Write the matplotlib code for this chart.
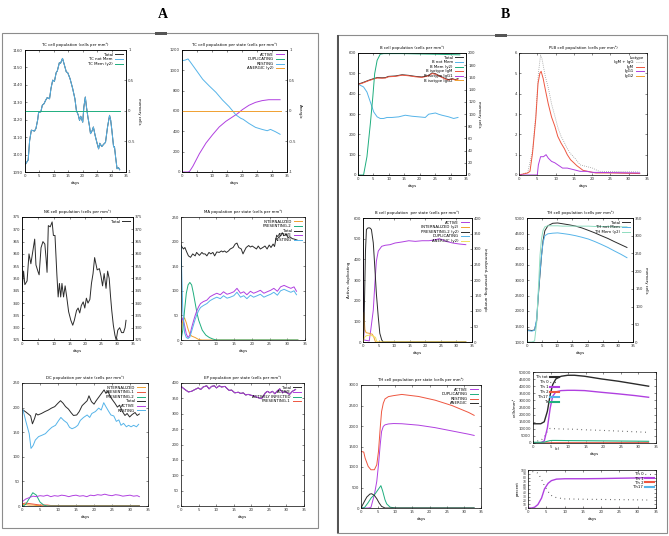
"""C-ImmSim style simulation panels (A: innate/TC, B: B and TH cells)."""
import matplotlib
matplotlib.use("Agg")
import matplotlib.pyplot as plt
from matplotlib.patches import Rectangle
from matplotlib.lines import Line2D

plt.rcParams["axes.unicode_minus"] = False
plt.rcParams["font.family"] = "DejaVu Sans"

W, H = 669, 536
FS = 2.8      # tick / legend text
FT = 2.8      # titles
LW = 0.7

C_BLACK = "#2b2b2b"
C_BLUE = "#56b4e9"
C_GREEN = "#1fae7e"
C_PURPLE = "#b040e0"
C_RED = "#ee5640"
C_ORANGE = "#f0a030"
C_YELLOW = "#f0e060"
C_PALEGREEN = "#8fdcc0"
C_GRAY = "#9a9a9a"

# ---------------- panel A data ----------------
tc_days = [0.2, 1.1, 1.6, 2.2, 3.3, 3.8, 4.4, 4.7, 5.5, 6.0, 6.6, 7.1, 7.7, 8.5, 9.0, 9.6, 10.2,
           10.8, 11.2, 11.9, 12.3, 13.0, 13.5, 14.3, 14.8, 15.6, 16.5, 17.3, 17.8, 18.5, 18.9,
           19.3, 20.0, 20.4, 20.9, 21.3, 21.8, 22.3, 22.7, 23.3, 23.7, 24.3, 24.9, 25.5, 25.9,
           26.6, 27.3, 27.9, 28.6, 29.3, 29.7, 30.1, 30.7, 31.0, 31.4, 31.9, 32.4, 32.8]
tc_not_mem = [1094.6, 1096.9, 1108, 1114, 1113.5, 1115, 1120, 1124, 1124.6, 1128.3, 1129.2, 1131,
              1132.7, 1132, 1137.9, 1142.7, 1142, 1147, 1148, 1152.7, 1152.3, 1155.2, 1152.3,
              1147.5, 1147, 1143.6, 1138, 1132, 1125.4, 1122.5, 1119.6, 1122, 1118.6, 1127.3, 1133,
              1127.3, 1121.5, 1116.7, 1112, 1113.8, 1115.8, 1111, 1107, 1103.3, 1106.5, 1104.6,
              1106, 1107, 1115.8, 1122.5, 1119.6, 1114, 1104.4, 1104.6, 1098.5, 1091.9, 1092.5,
              1091.3]
tc_total = tc_not_mem
tc_mem_days = [0, 33]
tc_mem = [0, 0]

tcs_rest_days = [0, 1.0, 2.0, 2.7, 4.7, 6.9, 9.1, 11.3, 13.5, 15.7, 18.0, 19.6, 20.4, 22.3, 24.5,
                 26.7, 28.4, 29.5, 31.1, 32.7]
tcs_resting = [1095, 1100, 1112, 1085, 1003, 912, 846, 784, 708, 643, 561, 528, 518, 478, 439,
               419, 406, 419, 397, 371]
tcs_act_days = [0, 2.0, 2.5, 3.6, 5.8, 8.0, 10.2, 12.4, 14.6, 16.8, 18.5, 20.1, 22.3, 24.5, 26.7,
                28.9, 32.7]
tcs_active = [0, 0, 5, 55, 180, 285, 367, 443, 498, 541, 574, 613, 656, 685, 702, 711, 711]
tcs_flat_days = [0, 33]
tcs_dup = [0, 0]
tcs_anergic = [0, 0]

nk_days = [0.0, 0.5, 0.9, 1.6, 2.2, 2.8, 3.4, 4.0, 4.4, 5.0, 5.4, 6.0, 6.6, 7.2, 7.6, 7.9, 8.3,
           8.9, 9.5, 9.9, 10.4, 11.0, 11.4, 11.8, 12.2, 12.6, 13.1, 13.6, 14.1, 14.7, 15.4, 16.0,
           16.5, 17.2, 17.7, 18.2, 18.7, 19.3, 19.8, 20.3, 20.8, 21.4, 21.9, 22.4, 22.9, 23.7,
           24.4, 24.9, 25.4, 25.9, 26.5, 27.0, 27.5, 27.9, 28.3, 28.8, 29.3, 29.7, 30.2, 30.8,
           31.4, 32.0, 32.5, 32.8]
nk_total = [345.5, 353, 347.5, 349, 360, 356, 361, 366, 355.5, 353, 351.5, 362.5, 365, 364, 358,
            352.5, 371.5, 371, 373, 367.5, 367.5, 351.5, 342.5, 348, 342.5, 348, 342.5, 347,
            342.5, 336.5, 333, 331, 333, 337, 338, 336, 339, 340.5, 338, 342, 340, 341.5, 348,
            352, 358.5, 353.5, 354, 351, 347, 352, 346, 353, 350, 343, 337, 331, 327, 325, 329,
            330, 328, 328, 330, 333]

ma_total_days = [0, 0.7, 1.1, 1.6, 2.1, 2.7, 3.3, 4.0, 4.4, 5.2, 5.9, 6.3, 6.8, 7.3, 7.9, 8.4,
                 9.0, 9.5, 10.1, 10.8, 11.4, 11.8, 12.3, 12.8, 13.4, 13.9, 14.7, 15.3, 15.8, 16.3,
                 17.0, 17.5, 17.9, 18.4, 19.1, 19.6, 20.1, 20.7, 21.3, 21.8, 22.4, 23.1, 23.7,
                 24.3, 24.9, 25.4, 26.0, 26.4, 27.0, 27.6, 28.1, 28.6, 29.0, 29.7, 30.2, 30.7,
                 31.4, 32.0, 32.8]
ma_total = [192, 185, 188, 179, 171, 168, 175, 171, 178, 172, 178, 175, 175, 171, 178, 175, 178,
            171, 179, 178, 181, 179, 181, 178, 181, 185, 188, 195, 197, 188, 185, 175, 181, 188,
            192, 189, 191, 188, 185, 191, 185, 188, 191, 185, 193, 188, 195, 190, 213, 208, 212,
            218, 212, 215, 208, 210, 206, 205, 203]
ma_state_days = [0, 0.5, 1.0, 1.5, 2.0, 2.5, 3.0, 3.5, 4.0, 4.5, 5.0, 5.5, 6.3, 7.3, 8.2, 9.2,
                 10.1, 11.1, 12.0, 13.0, 13.9, 14.9, 15.8, 16.8, 17.7, 18.6, 19.6, 20.5, 21.5,
                 22.4, 23.4, 24.3, 25.3, 26.2, 27.2, 28.1, 29.1, 30.0, 31.0, 31.9, 32.6]
ma_active = [35, 45, 30, 12, 5, 10, 25, 38, 50, 60, 68, 74, 78, 81, 88, 92, 95, 92, 98, 93, 95,
             98, 105, 95, 98, 92, 99, 95, 98, 101, 95, 98, 101, 105, 99, 108, 111, 108, 105, 108,
             99]
ma_resting = [190, 60, 15, 5, 3, 6, 18, 30, 42, 52, 60, 66, 70, 74, 80, 84, 87, 84, 90, 85, 87,
              90, 97, 87, 90, 84, 91, 87, 90, 93, 87, 90, 93, 97, 91, 100, 103, 100, 97, 100, 92]
ma_pres_days = [0, 0.5, 1.0, 1.5, 2.0, 2.5, 3.0, 3.5, 4.0, 4.5, 5.0, 6.0, 7.0, 8.0, 9.0, 10.0, 33]
ma_pres2 = [0, 20, 60, 95, 112, 117, 112, 95, 75, 55, 40, 20, 10, 5, 2, 0, 0]
ma_int_days = [0, 0.5, 1.0, 1.5, 2.0, 2.5, 3.0, 4.0, 5.0, 6.0, 33]
ma_int = [10, 40, 45, 35, 22, 12, 8, 5, 1, 0, 0]

dc_total_days = [0.3, 0.9, 1.6, 2.4, 2.9, 3.5, 3.9, 4.4, 5.4, 6.4, 7.3, 8.2, 9.1, 10.0, 10.7,
                 11.4, 12.1, 12.9, 13.6, 14.3, 15.2, 15.9, 16.7, 17.4, 18.1, 18.6, 19.3, 20.0,
                 20.6, 21.4, 22.1, 22.8, 23.3, 23.9, 24.4, 25.1, 25.8, 26.5, 27.1, 27.9, 28.6,
                 29.2, 29.9, 30.6, 31.4, 32.0, 32.6]
dc_total = [195, 192, 188, 183, 167, 178, 188, 185, 188, 192, 195, 199, 202, 209, 214, 209, 202,
            197, 190, 184, 185, 192, 204, 209, 214, 224, 212, 207, 214, 222, 229, 236, 229, 233,
            224, 216, 209, 201, 205, 192, 184, 188, 181, 186, 190, 184, 187]
dc_rest_days = [0.3, 1.0, 2.0, 2.5, 3.1, 3.7, 4.6, 5.6, 6.5, 7.4, 8.3, 9.3, 10.2, 10.8, 11.6,
                12.5, 13.2, 13.9, 14.8, 15.5, 16.2, 17.1, 18.1, 18.8, 19.4, 20.4, 21.3, 22.0,
                22.7, 23.3, 24.1, 24.7, 25.5, 26.2, 26.9, 27.5, 28.2, 29.0, 29.6, 30.3, 31.0,
                31.8, 32.4]
dc_resting = [195, 174, 147, 117, 123, 134, 141, 144, 147, 154, 160, 164, 174, 180, 174, 169, 160,
              157, 160, 164, 174, 180, 185, 180, 188, 192, 199, 195, 210, 202, 192, 185, 183, 172,
              175, 164, 168, 161, 164, 161, 164, 161, 166]
dc_small_days = [0.3, 1, 2, 3, 4, 5, 6, 7, 8, 9, 10, 11, 12, 13, 14, 15, 16, 17, 18, 19, 20, 21,
                 22, 23, 24, 25, 26, 27, 28, 29, 30, 31, 32, 32.6]
dc_active = [10, 14, 17, 20, 19, 21, 20, 22, 19, 21, 20, 22, 21, 19, 21, 22, 20, 21, 19, 22, 21,
             23, 22, 24, 22, 21, 23, 22, 20, 21, 22, 20, 21, 19]
dc_pres2 = [0, 3, 15, 27, 22, 8, 2, 0, 0, 0, 0, 0, 0, 0, 0, 0, 0, 0, 0, 0, 0, 0, 0, 0, 0, 0, 0,
            0, 0, 0, 0, 0, 0, 0]
dc_pres1 = [5, 6, 5, 4, 3, 2, 2, 2, 1, 1, 1, 1, 1, 1, 1, 1, 1, 1, 1, 1, 1, 1, 1, 1, 1, 1, 1, 1,
            1, 1, 1, 1, 1, 1]
dc_int = [3, 3, 2, 2, 1, 1, 0, 0, 0, 0, 0, 0, 0, 0, 0, 0, 0, 0, 0, 0, 0, 0, 0, 0, 0, 0, 0, 0, 0,
          0, 0, 0, 0, 0]

ep_days = [0, 1.1, 2.1, 3.0, 4.0, 4.9, 5.6, 6.3, 7.3, 8.0, 8.7, 9.5, 10.1, 10.9, 11.5, 12.5,
           13.2, 13.7, 14.4, 15.3, 16.3, 17.0, 17.7, 18.4, 19.1, 20.0, 21.0, 22.0, 22.9, 23.4,
           24.0, 24.6, 25.3, 26.0, 26.7, 27.3, 28.1, 28.9, 29.5, 30.2, 30.9, 31.7, 32.6]
ep_active = [389, 379, 371, 373, 379, 384, 379, 387, 391, 381, 389, 391, 384, 391, 387, 389, 381,
             376, 377, 368, 370, 366, 368, 361, 363, 360, 357, 352, 349, 357, 368, 373, 368, 373,
             365, 373, 381, 368, 373, 368, 363, 373, 379]
ep_flat_days = [0, 33]
ep_infected = [0, 0]
ep_pres1 = [0, 0]

# ---------------- panel B data ----------------
b_days = [0, 1.3, 3.5, 5.1, 6.2, 7.8, 8.9, 9.9, 12.1, 14.3, 16.4, 18.6, 20.7, 22.9, 24.0, 25.1,
          26.1, 27.2, 28.3, 29.4, 30.5, 31.5, 32.4]
b_total = [447, 453, 466, 474, 479, 478, 479, 485, 487, 493, 490, 485, 482, 490, 502, 498, 490,
           482, 474, 469, 474, 469, 474]
b_igm = [445, 451, 464, 472, 477, 476, 477, 483, 485, 491, 488, 483, 480, 488, 499, 496, 488, 480,
         472, 467, 472, 467, 471]
b_not_mem_days = [0, 1.8, 2.9, 4.0, 5.1, 6.2, 7.2, 8.3, 9.4, 11.0, 13.2, 15.3, 17.5, 19.7, 21.8,
                  22.9, 24.0, 25.1, 26.1, 27.2, 29.4, 31.0, 32.4]
b_not_mem = [447, 433, 408, 359, 310, 286, 278, 278, 283, 283, 286, 294, 289, 286, 283, 299, 302,
             305, 299, 294, 286, 278, 283]
b_mem_days = [0, 1.8, 2.9, 4.0, 4.8, 5.4, 6.2, 7.2, 8.3, 14.3, 25.0, 33.0]
b_mem = [0, 0, 30, 84, 128, 166, 188, 198, 199, 199, 198, 197]
b_flat_days = [0, 33]
b_igg1 = [0, 0]
b_igg2 = [0, 0]

plb_igm_days = [0, 2.4, 3.0, 3.7, 4.6, 5.2, 5.7, 6.05, 6.6, 7.2, 8.0, 8.9, 9.8, 10.6, 11.5, 12.4,
                13.2, 14.1, 15.0, 15.8, 16.7, 17.5, 19.3, 21.0, 25.3, 33.0]
plb_igm = [0, 0.1, 0.18, 1.08, 2.8, 4.5, 5.0, 5.1, 4.75, 4.2, 3.5, 2.85, 2.4, 1.9, 1.57, 1.3, 1.0,
           0.75, 0.6, 0.46, 0.34, 0.23, 0.16, 0.1, 0.1, 0.07]
plb_sum_days = [0, 2.4, 3.7, 4.6, 5.3, 5.9, 6.3, 7.2, 8.0, 8.9, 9.8, 10.6, 11.5, 12.4, 13.2, 14.1,
                15.4, 16.7, 18.4, 20.1, 21.9, 33.0]
plb_sum = [0, 0.13, 1.2, 3.0, 5.0, 5.9, 5.7, 4.85, 4.3, 3.5, 2.9, 2.35, 1.9, 1.6, 1.3, 1.05, 0.8,
           0.5, 0.42, 0.34, 0.18, 0.15]
plb_igg1_days = [0, 5.0, 5.3, 5.9, 6.7, 7.4, 8.0, 8.9, 9.8, 10.6, 11.9, 13.2, 15.0, 16.7, 18.4,
                 20.1, 33.0]
plb_igg1 = [0, 0, 0.5, 0.9, 0.9, 1.0, 0.83, 0.67, 0.6, 0.5, 0.34, 0.34, 0.26, 0.18, 0.18, 0.13,
            0.1]
plb_igg2_days = [0, 33]
plb_igg2 = [0, 0]

bs_act_days = [0, 0.3, 2.0, 2.5, 3.3, 3.8, 4.3, 4.9, 6.0, 7.1, 8.7, 10.3, 12.5, 14.7, 16.8, 19.0,
               21.2, 23.4, 24.5, 25.5, 26.6, 28.8, 31.0, 33.0]
bs_active = [450, 10, 5, 59, 154, 280, 392, 440, 463, 468, 471, 479, 484, 490, 487, 490, 490,
             495, 500, 495, 487, 479, 474, 471]
bs_pres_days = [0, 0.3, 0.8, 1.1, 1.6, 2.2, 2.7, 3.3, 3.8, 4.3, 4.9, 5.4, 6.0, 6.5, 7.0, 33]
bs_pres2 = [0, 38, 294, 363, 368, 368, 363, 320, 240, 155, 81, 28, 7, 0, 0, 0]
bs_int_days = [0, 0.3, 0.6, 1.0, 2.0, 3.0, 3.5, 4.0, 33]
bs_int = [0, 95, 40, 30, 28, 25, 15, 0, 0]
bs_an_days = [0, 0.5, 1.0, 2.0, 3.0, 4.0, 4.5, 33]
bs_anergic = [0, 15, 20, 22, 20, 15, 0, 0]
bs_dup_days = [0, 33]
bs_dup = [0, 0]

th_days = [0, 1.6, 2.5, 3.2, 3.7, 4.3, 4.8, 5.3, 5.9, 6.9, 8.5, 10.1, 11.7, 13.9, 16.0, 18.1,
           20.3, 22.4, 24.5, 26.7, 28.8, 31.0, 33.0]
th_total = [1390, 1370, 1390, 1690, 2440, 3190, 3780, 4270, 4590, 4750, 4830, 4840, 4815, 4780,
            4740, 4680, 4600, 4520, 4430, 4340, 4240, 4140, 4050]
th_not_mem = [1370, 1350, 1380, 1750, 2500, 3250, 3800, 4200, 4430, 4490, 4510, 4520, 4500, 4470,
              4430, 4380, 4320, 4240, 4150, 4050, 3940, 3830, 3720]
th_mem = [0, 0, 3, 55, 140, 245, 292, 315, 325, 328, 328, 328, 327, 327, 327, 327, 327, 326, 326,
          326, 325, 325, 325]

ths_days = [0, 0.8, 1.2, 2.1, 2.9, 3.9, 4.6, 5.1, 5.6, 6.0, 6.5, 7.0, 8.0, 9.5, 11.9, 16.8, 21.6,
            26.5, 31.4, 33.0]
ths_resting = [1380, 1365, 1217, 1014, 933, 933, 1054, 1379, 1946, 2352, 2555, 2660, 2717, 2741,
               2770, 2720, 2630, 2500, 2330, 2260]
ths_active = [0, 0, 0, 0, 15, 324, 649, 1054, 1541, 1865, 1990, 2028, 2050, 2060, 2055, 2020,
              1960, 1880, 1800, 1770]
ths_dup_days = [0, 1.0, 2.0, 3.0, 4.0, 5.0, 5.8, 6.3, 7.0, 7.5, 8.5, 10.0, 33.0]
ths_dup = [0, 10, 120, 250, 330, 450, 545, 420, 200, 100, 20, 0, 0]
ths_an_days = [0, 1.0, 1.7, 2.6, 3.1, 3.9, 4.6, 5.3, 6.0, 7.0, 33.0]
ths_anergic = [0, 162, 268, 340, 348, 308, 227, 122, 40, 0, 0]

thc_days = [0, 2.2, 3.2, 4.1, 4.9, 5.6, 6.5, 8.0, 9.9, 11.8, 14.7, 19.5, 24.3, 29.0, 32.9]
thc_tot = [13550, 13550, 14950, 22400, 34100, 41100, 45100, 47000, 47700, 47700, 47000, 45100,
           43500, 41600, 40000]
thc_th1 = [200, 200, 1400, 10700, 24700, 32900, 36000, 36900, 37100, 37100, 36900, 35700, 34600,
           33400, 32200]
thc_th0 = [900, 1800, 4000, 8400, 10300, 10200, 10000, 9900, 9800, 9700, 9300, 8900, 8400, 7900,
           7500]
thc_tr = [500, 500, 600, 1200, 1700, 1800, 1800, 1750, 1700, 1650, 1600, 1500, 1400, 1300, 1200]
thc_th2 = [100, 100, 100, 150, 200, 250, 250, 250, 250, 250, 250, 250, 250, 250, 250]
thc_th17 = [0, 0, 0, 0, 0, 0, 0, 0, 0, 0, 0, 0, 0, 0, 0]

thp_days = [0, 1.0, 1.8, 2.7, 3.7, 4.5, 5.5, 6.4, 7.8, 10.1, 15.6, 20.2, 24.7, 29.3, 33.0]
thp_th1 = [0, 0, 2, 9, 26, 50, 65, 72, 76, 77, 77, 77.5, 78.3, 79, 80]
thp_th0 = [97, 96, 95, 92, 76, 58, 43, 33, 27, 24, 23, 22.5, 22, 21.5, 21]
thp_th2 = [0, 0, 0, 0, 0, 0, 0, 0, 0, 0, 0, 0, 0, 0, 0]
thp_th17 = [0, 0, 0, 0, 0, 0, 0, 0, 0, 0, 0, 0, 0, 0, 0]

DOTS = (0, (0.6, 3.5))

fig = plt.figure(figsize=(W / 100, H / 100), dpi=100)


def add_ax(l, t, r, b):
    return fig.add_axes([l / W, 1 - b / H, (r - l) / W, (b - t) / H])


def gp_style(ax, title, ylim, yticks, right=True, xlabel=True):
    ax.set_xlim(0, 35)
    ax.set_xticks(range(0, 36, 5))
    ax.set_ylim(*ylim)
    ax.set_yticks(list(yticks))
    ax.tick_params(direction="in", length=1.5, width=0.4, labelsize=FS, pad=1.5,
                   top=True, right=right, colors="#333333")
    for sp in ax.spines.values():
        sp.set_linewidth(0.5)
    if title:
        ax.set_title(title, fontsize=FT, pad=3)
    if xlabel:
        ax.set_xlabel("days", fontsize=FS, labelpad=2)


def twin(ax, ylim, yticks, label, ticklabels=None):
    tw = ax.twinx()
    tw.set_ylim(*ylim)
    tw.set_yticks(list(yticks))
    if ticklabels is not None:
        tw.set_yticklabels(ticklabels)
    tw.tick_params(direction="in", length=1.5, width=0.4, labelsize=FS, pad=1.5, colors="#333333")
    for sp in tw.spines.values():
        sp.set_linewidth(0.5)
    if label:
        tw.set_ylabel(label, fontsize=FS, rotation=270, labelpad=4)
    return tw


def gp_legend(ax, handles, loc="upper right", markerfirst=False, **kw):
    opts = dict(loc=loc, fontsize=FS, frameon=False, markerfirst=markerfirst,
                handlelength=2.2, handletextpad=0.5, labelspacing=0.15, borderaxespad=0.3)
    opts.update(kw)
    return ax.legend(handles=handles, **opts)


# ================= Panel A =================
# TC cell population
ax = add_ax(25, 50, 126, 172)
gp_style(ax, "TC cell population (cells per mm³)", (1090, 1160), range(1090, 1161, 10), right=False)
h1, = ax.plot(tc_days, tc_total, color=C_BLACK, lw=LW, label="Total")
h2, = ax.plot(tc_days, tc_not_mem, color=C_BLUE, lw=LW, label="TC not Mem")
tw = twin(ax, (-1, 1), [-1, -0.5, 0, 0.5, 1], "memory cells", ["-1", "-0.5", "0", "0.5", "1"])
h3, = tw.plot(tc_mem_days, tc_mem, color=C_GREEN, lw=LW, label="TC Mem (y2)")
gp_legend(tw, [h1, h2, h3])

# TC cell population per state
ax = add_ax(182, 50, 287, 172)
gp_style(ax, "TC cell population per state (cells per mm³)", (0, 1200), range(0, 1201, 200), right=False)
h1, = ax.plot(tcs_act_days, tcs_active, color=C_PURPLE, lw=LW, label="ACTIVE")
h2, = ax.plot(tcs_flat_days, tcs_dup, color=C_GREEN, lw=LW, label="DUPLICATING")
h3, = ax.plot(tcs_rest_days, tcs_resting, color=C_BLUE, lw=LW, label="RESTING")
tw = twin(ax, (-1, 1), [-1, -0.5, 0, 0.5, 1], "Anergic", ["-1", "-0.5", "0", "0.5", "1"])
h4, = tw.plot(tcs_flat_days, tcs_anergic, color=C_ORANGE, lw=LW, label="ANERGIC (y2)")
gp_legend(tw, [h1, h2, h3, h4])

# NK cell population
ax = add_ax(22, 217, 133, 340)
gp_style(ax, "NK cell population (cells per mm³)", (325, 375), range(325, 376, 5), right=False)
h1, = ax.plot(nk_days, nk_total, color=C_BLACK, lw=LW, label="Total")
tw = twin(ax, (325, 375), range(325, 376, 5), None)
gp_legend(tw, [h1])

# MA population per state
ax = add_ax(181, 217, 305, 340)
gp_style(ax, "MA population per state (cells per mm³)", (0, 250), range(0, 251, 50))
h1, = ax.plot(ma_int_days, ma_int, color=C_ORANGE, lw=LW, label="INTERNALIZED")
h2, = ax.plot(ma_pres_days, ma_pres2, color=C_GREEN, lw=LW, label="PRESENTING-2")
h3, = ax.plot(ma_total_days, ma_total, color=C_BLACK, lw=LW, label="Total")
h4, = ax.plot(ma_state_days, ma_active, color=C_PURPLE, lw=LW, label="ACTIVE")
h5, = ax.plot(ma_state_days, ma_resting, color=C_BLUE, lw=LW, label="RESTING")
gp_legend(ax, [h1, h2, h3, h4, h5])

# DC population per state
ax = add_ax(22, 383, 148, 506)
gp_style(ax, "DC population per state (cells per mm³)", (0, 250), range(0, 251, 50))
h1, = ax.plot(dc_small_days, dc_int, color=C_ORANGE, lw=LW, label="INTERNALIZED")
h2, = ax.plot(dc_small_days, dc_pres1, color=C_RED, lw=LW, label="PRESENTING-1")
h3, = ax.plot(dc_small_days, dc_pres2, color=C_GREEN, lw=LW, label="PRESENTING-2")
h4, = ax.plot(dc_total_days, dc_total, color=C_BLACK, lw=LW, label="Total")
h5, = ax.plot(dc_small_days, dc_active, color=C_PURPLE, lw=LW, label="ACTIVE")
h6, = ax.plot(dc_rest_days, dc_resting, color=C_BLUE, lw=LW, label="RESTING")
gp_legend(ax, [h1, h2, h3, h4, h5, h6])

# EP population per state
ax = add_ax(181, 383, 304, 506)
gp_style(ax, "EP population per state (cells per mm³)", (0, 400), range(0, 401, 50))
h1, = ax.plot(ep_days, ep_active, color=C_BLACK, lw=LW, label="Total")
h2, = ax.plot(ep_days, ep_active, color=C_PURPLE, lw=LW, label="ACTIVE")
h3, = ax.plot(ep_flat_days, ep_infected, color=C_GREEN, lw=LW, label="ACTIVELY INFECTED")
h4, = ax.plot(ep_flat_days, ep_pres1, color=C_RED, lw=LW, label="PRESENTING-1")
gp_legend(ax, [h1, h2, h3, h4])

# ================= Panel B =================
# B cell population
ax = add_ax(358, 53, 466, 175)
gp_style(ax, "B cell population (cells per mm³)", (0, 600), range(0, 601, 100), right=False)
h1, = ax.plot(b_days, b_total, color=C_BLACK, lw=LW, label="Total")
h2, = ax.plot(b_not_mem_days, b_not_mem, color=C_BLUE, lw=LW, label="B not Mem")
h4, = ax.plot(b_days, b_igm, color=C_RED, lw=LW, label="B isotype IgM")
h5, = ax.plot(b_flat_days, b_igg1, color=C_PURPLE, lw=LW, label="B isotype IgG1")
h6, = ax.plot(b_flat_days, b_igg2, color=C_ORANGE, lw=LW, label="B isotype IgG2")
tw = twin(ax, (0, 200), range(0, 201, 20), "memory cells")
h3, = tw.plot(b_mem_days, b_mem, color=C_GREEN, lw=LW, label="B Mem (y2)")
gp_legend(tw, [h1, h2, h3, h4, h5, h6])

# PLB cell population
ax = add_ax(519, 53, 647, 175)
gp_style(ax, "PLB cell population (cells per mm³)", (0, 6), range(0, 7))
h1, = ax.plot(plb_sum_days, plb_sum, color=C_GRAY, lw=0.6, ls=(0, (1, 1.5)), label="IgM + IgG")
h2, = ax.plot(plb_igm_days, plb_igm, color=C_RED, lw=LW, label="IgM")
h3, = ax.plot(plb_igg1_days, plb_igg1, color=C_PURPLE, lw=LW, label="IgG1")
h4, = ax.plot(plb_igg2_days, plb_igg2, color=C_ORANGE, lw=LW, label="IgG2")
leg = gp_legend(ax, [h1, h2, h3, h4], title="Isotype", title_fontsize=FS)
leg._legend_box.align = "right"

# B cell population per state
ax = add_ax(363, 218, 472, 342)
gp_style(ax, "B cell population  per state (cells per mm³)", (0, 600), range(0, 601, 100), right=False)
ax.set_ylabel("Active, duplicating", fontsize=FS, labelpad=2)
h1, = ax.plot(bs_act_days, bs_active, color=C_PURPLE, lw=LW, label="ACTIVE")
h4, = ax.plot(bs_dup_days, bs_dup, color=C_BLUE, lw=LW, label="DUPLICATING")
tw = twin(ax, (0, 400), range(0, 401, 50), "internalized, presenting, anergic")
h2, = tw.plot(bs_int_days, bs_int, color=C_ORANGE, lw=LW, label="INTERNALIZED (y2)")
h3, = tw.plot(bs_pres_days, bs_pres2, color=C_BLACK, lw=LW, label="PRESENTING-2 (y2)")
h5, = tw.plot(bs_an_days, bs_anergic, color=C_YELLOW, lw=LW, label="ANERGIC (y2)")
gp_legend(tw, [h1, h2, h3, h4, h5])

# TH cell population
ax = add_ax(527, 218, 633, 342)
gp_style(ax, "TH cell population (cells per mm³)", (1000, 5000), range(1000, 5001, 500), right=False)
h1, = ax.plot(th_days, th_total, color=C_BLACK, lw=LW, label="Total")
h2, = ax.plot(th_days, th_not_mem, color=C_BLUE, lw=LW, label="TH not Mem")
tw = twin(ax, (0, 350), range(0, 351, 50), "memory cells")
h3, = tw.plot(th_days, th_mem, color=C_PALEGREEN, lw=LW, label="TH Mem (y2)")
gp_legend(tw, [h1, h2, h3])

# TH cell population per state
ax = add_ax(361, 385, 481, 508)
gp_style(ax, "TH cell population per state (cells per mm³)", (0, 3000), range(0, 3001, 500))
h1, = ax.plot(ths_days, ths_active, color=C_PURPLE, lw=LW, label="ACTIVE")
h2, = ax.plot(ths_dup_days, ths_dup, color=C_GREEN, lw=LW, label="DUPLICATING")
h3, = ax.plot(ths_days, ths_resting, color=C_RED, lw=LW, label="RESTING")
h4, = ax.plot(ths_an_days, ths_anergic, color=C_BLACK, lw=LW, label="ANERGIC")
gp_legend(ax, [h1, h2, h3, h4])

# Th cells by subtype (absolute)
ax = add_ax(533, 372, 656, 443)
gp_style(ax, None, (0, 50000), range(0, 50001, 5000))
ax.set_ylabel("cells/mm³", fontsize=FS, labelpad=1)
ax.plot(thc_days, thc_tot, color=C_BLACK, lw=1.0)
ax.plot(thc_days, thc_th0, color=C_BLACK, lw=0.8, ls=DOTS)
ax.plot(thc_days, thc_th1, color=C_PURPLE, lw=1.0)
ax.plot(thc_days, thc_th2, color=C_RED, lw=0.8)
ax.plot(thc_days, thc_th17, color=C_BLUE, lw=0.8)
ax.plot(thc_days, thc_tr, color=C_GREEN, lw=0.8)
hs = [Line2D([], [], color=C_BLACK, lw=1.5, label="Th tot"),
      Line2D([], [], color=C_BLACK, lw=0.8, ls=DOTS, label="Th 0"),
      Line2D([], [], color=C_PURPLE, lw=1.5, label="Th 1"),
      Line2D([], [], color=C_RED, lw=1.5, label="Th 2"),
      Line2D([], [], color=C_BLUE, lw=1.5, label="Th17"),
      Line2D([], [], color=C_GREEN, lw=1.5, label="Tr")]
gp_legend(ax, hs, loc="upper left", labelspacing=0.25, borderaxespad=0.5)
ax.text(0.2, -0.06, "(c)", transform=ax.transAxes, fontsize=FS, va="top", ha="center")

# Th cells by subtype (percent)
ax = add_ax(528, 470, 656, 508)
gp_style(ax, None, (0, 100), range(0, 101, 10))
ax.set_ylabel("percent", fontsize=FS, labelpad=1)
ax.tick_params(axis="y", labelsize=2.2, pad=1)
ax.plot(thp_days, thp_th0, color=C_BLACK, lw=0.8, ls=DOTS)
ax.plot(thp_days, thp_th1, color=C_PURPLE, lw=1.0)
ax.plot(thp_days, thp_th2, color=C_RED, lw=0.8)
ax.plot(thp_days, thp_th17, color=C_BLUE, lw=0.8)
hs = [Line2D([], [], color=C_BLACK, lw=0.8, ls=DOTS, label="Th 0"),
      Line2D([], [], color=C_PURPLE, lw=1.5, label="Th 1"),
      Line2D([], [], color=C_RED, lw=1.5, label="Th 2"),
      Line2D([], [], color=C_BLUE, lw=1.5, label="Th17")]
gp_legend(ax, hs, labelspacing=0.05, borderaxespad=0.2)


# ================= frames and panel letters =================
def frame(l, t, r, b, lw=0.8, color="#8c8c8c"):
    fig.patches.append(Rectangle((l / W, 1 - b / H), (r - l) / W, (b - t) / H,
                                 transform=fig.transFigure, fill=False, lw=lw, ec=color))


def bar_px(l, t, r, b, color="#555555"):
    fig.patches.append(Rectangle((l / W, 1 - b / H), (r - l) / W, (b - t) / H,
                                 transform=fig.transFigure, color=color, lw=0))


frame(2, 33, 318, 528)
frame(337, 35, 667, 533)
bar_px(337, 35, 338.5, 533)
bar_px(155, 32, 167, 34.5)
bar_px(495, 34, 507, 36.5)
fig.text(163 / W, 1 - 14 / H, "A", fontsize=10, fontweight="bold", family="Liberation Serif",
         ha="center", va="center")
fig.text(505 / W, 1 - 14 / H, "B", fontsize=10, fontweight="bold", family="Liberation Serif",
         ha="center", va="center")

fig.savefig("out.png", dpi=100)
